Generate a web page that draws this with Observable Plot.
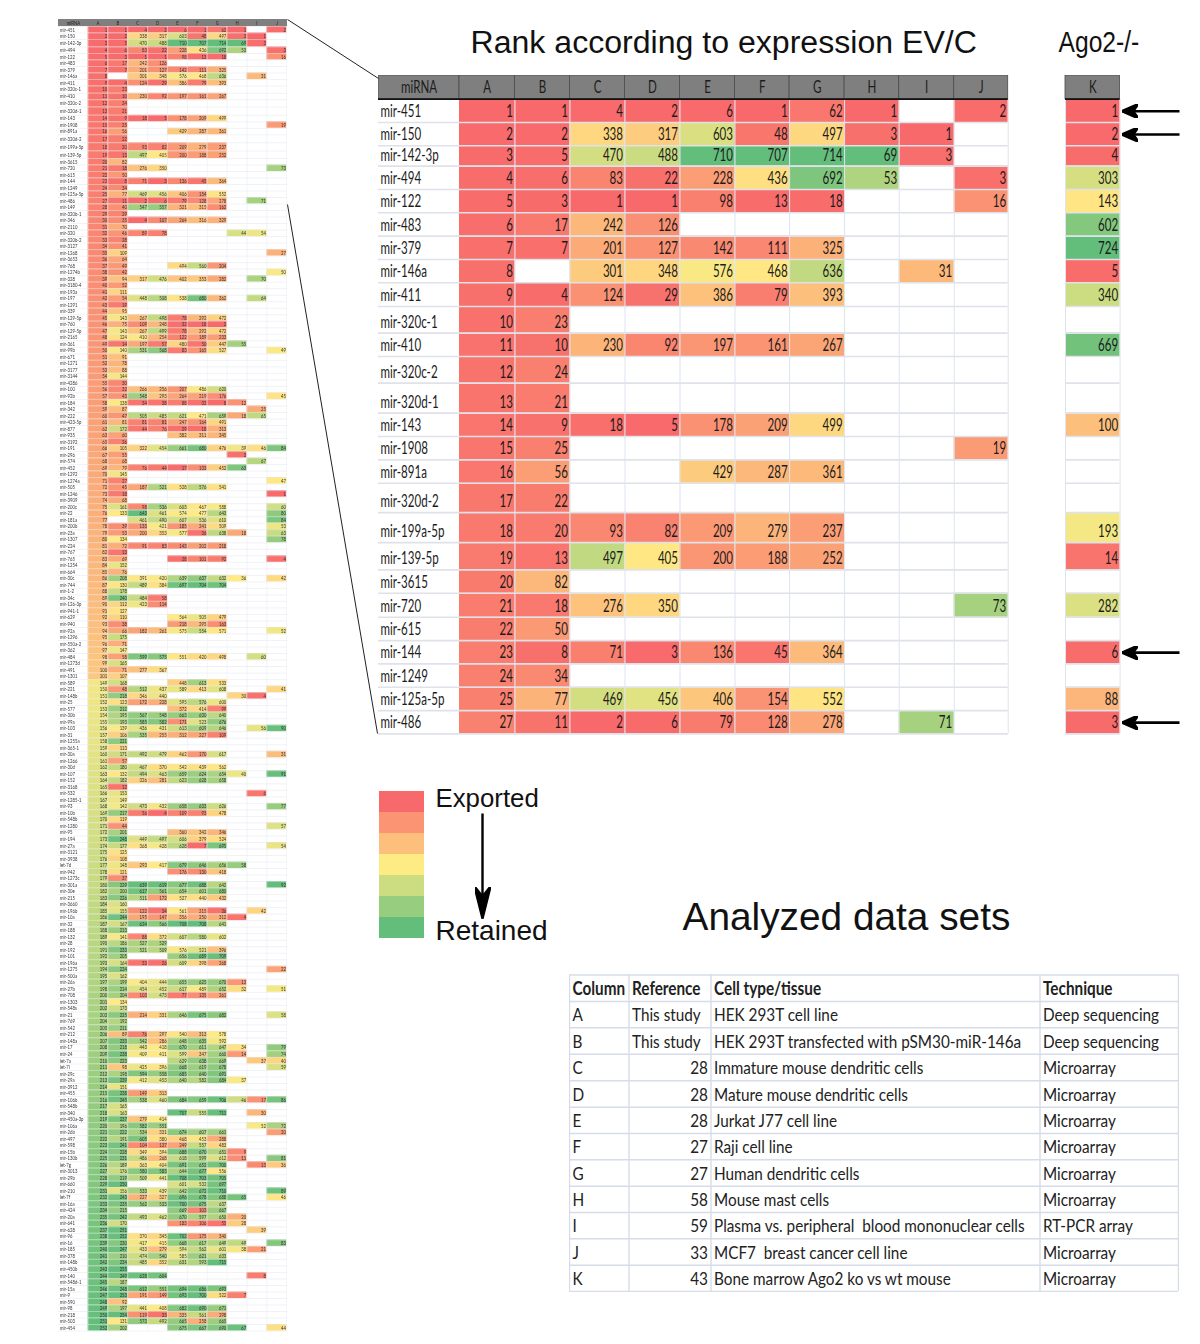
<!DOCTYPE html>
<html><head><meta charset="utf-8">
<script src="https://cdn.jsdelivr.net/npm/d3@7"></script>
<script src="https://cdn.jsdelivr.net/npm/@observablehq/plot@0.6"></script>
<style>
html,body{margin:0;padding:0;background:#fff}
#page{position:relative;width:1200px;height:1344px;overflow:hidden}
#page>div{position:absolute}
#mini{filter:blur(.45px)}
</style></head><body><div id="page">
<div id="mini" style="left:58px;top:19px"></div>
<div id="main" style="left:378px;top:75px"></div>
<div id="legend" style="left:379px;top:788px"></div>
<div id="table" style="left:569px;top:974px"></div>
<div id="notes" style="left:0;top:0;pointer-events:none"></div>
</div>
<script>
const _ = null;
// ---- main table values (rank per data set) ----
const miRNA = ["mir-451","mir-150","mir-142-3p","mir-494","mir-122","mir-483","mir-379","mir-146a","mir-411","mir-320c-1","mir-410","mir-320c-2","mir-320d-1","mir-143","mir-1908","mir-891a","mir-320d-2","mir-199a-5p","mir-139-5p","mir-3615","mir-720","mir-615","mir-144","mir-1249","mir-125a-5p","mir-486"];
const colA = [1,2,3,4,5,6,7,8,9,10,11,12,13,14,15,16,17,18,19,20,21,22,23,24,25,27];
const colB = [1,2,5,6,3,17,7,_,4,23,10,24,21,9,25,56,22,20,13,82,18,50,8,34,77,11];
const colC = [4,338,470,83,1,242,201,301,124,_,230,_,_,18,_,_,_,93,497,_,276,_,71,_,469,2];
const colD = [2,317,488,22,1,126,127,348,29,_,92,_,_,5,_,_,_,82,405,_,350,_,3,_,456,6];
const colE = [6,603,710,228,98,_,142,576,386,_,197,_,_,178,_,429,_,209,200,_,_,_,136,_,406,79];
const colF = [1,48,707,436,13,_,111,468,79,_,161,_,_,209,_,287,_,279,188,_,_,_,45,_,154,128];
const colG = [62,497,714,692,18,_,325,636,393,_,267,_,_,499,_,361,_,237,252,_,_,_,364,_,552,278];
const colH = [1,3,69,53,_,_,_,_,_,_,_,_,_,_,_,_,_,_,_,_,_,_,_,_,_,_];
const colI = [_,1,3,_,_,_,_,31,_,_,_,_,_,_,_,_,_,_,_,_,_,_,_,_,_,71];
const colJ = [2,_,_,3,16,_,_,_,_,_,_,_,_,_,19,_,_,_,_,_,73,_,_,_,_,_];
const colK = [1,2,4,303,143,602,724,5,340,_,669,_,_,100,_,_,_,193,14,_,282,_,6,_,88,3];
const columns = ["A","B","C","D","E","F","G","H","I","J","K"];
const columnValues = [colA,colB,colC,colD,colE,colF,colG,colH,colI,colJ,colK];
// Excel style 3-colour scale anchors per column: min, median, max
const anchors = {A:[1,140,252],B:[1,135,255],C:[1,400,643],D:[1,415,629],E:[1,570,710],F:[1,480,707],G:[1,584,715],H:[1,36,69],I:[1,50,87],J:[1,48,92],K:[1,150,724]};
const arrowRows = ["mir-451","mir-150","mir-144","mir-486"];
// ---- thumbnail of whole table: name, A..J ----
const miniBlock1 = [
["mir-149",28,40,547,557,321,315,162],["mir-320b-1",29,29],["mir-346",30,35,4,107,264,316,329],["mir-2110",31,70],["mir-320",32,46,89,78,_,_,_,44,54],
["mir-320b-2",33,28],["mir-3127",34,41],["mir-1268",35,109,_,_,_,_,_,_,_,27],["mir-3653",36,64],["mir-768",37,49,_,_,494,560,204],["mir-1274b",38,42,_,_,_,_,_,_,_,50],
["mir-328",39,94,317,476,402,353,282,_,70],["mir-3180-4",40,52],["mir-193a",41,111],["mir-197",42,54,448,508,538,680,362,_,64],["mir-1291",43,19],["mir-339",44,95],
["mir-129-5p",45,143,267,498,78,292,472],["mir-760",46,75,109,248,32,18,2],["mir-129-5p",47,143,267,499,78,292,472],["mir-2165",48,124,410,254,122,189,233],
["mir-361",49,14,197,57,480,50,447,55],["mir-99b",50,140,531,568,83,165,527,_,_,49],["mir-671",51,91],["mir-1271",52,78],["mir-3177",53,88],["mir-3144",54,144],["mir-4286",55,30],
["mir-100",56,32,266,256,207,486,620],["mir-92b",57,43,548,293,264,219,176,_,_,45],["mir-184",58,138,34,38,88,32,8,12],["mir-342",59,87,_,_,_,_,_,_,25],
["mir-222",60,47,505,485,621,471,659,18,65],["mir-423-5p",61,81,81,81,247,164,491],["mir-877",62,172,44,76,29,18,313],["mir-935",63,60,_,_,382,311,345],["mir-3192",65,26],
["mir-191",66,105,322,454,661,680,476,39,46,84]];
const miniBlock2 = [
["mir-296",67,55,_,_,_,_,_,3],["mir-574",68,68,_,_,_,_,_,_,67],["mir-452",69,79,76,44,17,133,452,63],["mir-1292",70,145],["mir-1274a",71,27,_,_,_,_,_,_,_,47],
["mir-505",72,45,187,521,528,576,541],["mir-1246",73,18,_,_,_,_,_,_,_,1],["mir-3909",74,68],["mir-200c",75,161,98,536,603,467,588,_,_,60],["mir-22",76,133,643,461,574,477,643,_,_,80],
["mir-181a",77,_,461,490,607,536,610,_,_,84],["mir-200b",78,39,133,421,185,241,509,_,_,53],["mir-23a",79,53,200,353,577,36,638,18,_,63],["mir-1307",80,134,_,_,_,_,_,_,_,78],
["mir-224",81,72,91,83,143,202,218],["mir-767",82,13],["mir-765",83,69,_,_,28,101,92,_,_,4],["mir-1254",84,152],["mir-664",85,76],["mir-30c",86,208,391,420,639,637,632,36,_,42],
["mir-744",87,130,489,384,697,704,704],["mir-1-2",88,178],["mir-34c",89,240,484,58],["mir-126-3p",90,112,423,114],["mir-941-1",91,127],["mir-629",92,110,_,_,564,505,479],
["mir-940",93,38,_,_,218,295,163],["mir-92a",94,66,182,261,575,554,571,_,_,52],["mir-1296",95,175],["mir-550a-2",96,71],["mir-362",97,147],["mir-484",98,58,599,575,551,420,498,_,60],
["mir-1273d",99,165],["mir-491",100,71,277,367],["mir-1301",101,107]];
const miniBlock3 = [
["mir-589",149,168,_,_,448,613,533],["mir-221",150,48,512,437,589,413,608,_,_,41],["mir-148b",151,218,346,440,_,_,_,30,4],["mir-25",152,123,172,228,595,576,600],
["mir-577",153,212,_,_,372,414,99],["mir-30b",154,195,567,548,663,630,640],["mir-99a",155,193,585,582,171,523,676],["mir-103",156,139,436,431,613,609,646,_,56,90],
["mir-31",157,106,535,255,312,227,109],["mir-1255a",158,221],["mir-365-1",159,113],["mir-30a",160,171,492,479,462,170,617,_,_,31],["mir-1266",161,57],["mir-30d",162,180,467,370,542,439,562],
["mir-107",163,132,494,463,659,624,654,40,_,91],["mir-152",164,182,326,281,623,628,658],["mir-3168",165,12],["mir-532",166,153,_,_,_,_,_,_,6],["mir-1285-1",167,149],
["mir-93",168,142,473,432,658,633,626,_,_,77],["mir-10b",169,217,56,4,109,93,478],["mir-548b",170,119],["mir-1280",171,44,_,_,_,_,_,_,_,57],["mir-95",172,201,_,_,360,342,346],
["mir-194",173,248,449,497,606,379,524],["mir-27a",174,177,368,428,628,7,695,_,_,54],["mir-3121",175,125],["mir-3938",176,108],["let-7d",177,148,293,417,679,646,656,58],
["mir-942",178,121,_,_,176,130,418],["mir-1273c",179,37],["mir-301a",180,229,639,619,677,688,642,_,_,92],["mir-30e",182,200,617,561,654,601,680]];
const miniBlock4 = [
["mir-215",183,226,511,172,527,440,432],["mir-3660",184,160],["mir-196b",185,155,122,34,561,215,36,_,42],["mir-10a",186,244,195,147,356,250,312,4],["mir-32",187,167,624,566,708,708,641],
["mir-188",188,213],["mir-132",189,141,88,372,607,580,602],["mir-28",190,186,527,529],["mir-192",191,233,521,509,576,521,396],["mir-101",192,205,_,_,656,689,709],
["mir-196a",193,164,33,26,609,398,268],["mir-1275",194,224,_,_,_,_,_,_,_,22],["mir-500a",195,162],["mir-26a",197,199,404,444,655,625,670,13],["mir-27b",198,214,454,452,617,489,652,32,_,51],
["mir-708",200,204,103,473,77,135,261],["mir-1303",201,134],["mir-548s",202,173],["mir-21",203,225,214,331,646,675,682,_,_,58],["mir-769",204,192],["mir-542",205,211],
["mir-212",206,89,76,297,540,313,578],["mir-148a",207,233,542,286,648,635,592],["mir-17",208,218,443,418,670,611,647,34,_,79],["mir-24",209,238,409,411,599,347,660,14,_,74],
["let-7a",210,223,_,_,629,638,669,_,37,40],["let-7i",211,98,425,396,668,619,678,_,_,59],["mir-29c",212,198,594,558,685,640,691],["mir-29a",213,239,412,453,640,582,684,37],
["mir-3912",214,151],["mir-455",215,238,149,313],["mir-106b",216,245,538,460,684,659,706,46,17,86],["mir-548b",217,165],["mir-340",218,163,_,_,707,555,711,_,30]];
const miniBlock5 = [
["mir-450a-3p",219,237,279,414],["mir-106a",220,196,582,551,_,_,_,_,52,72],["mir-26b",221,222,534,331,674,607,661,_,_,20],["mir-497",222,191,605,380,468,453,288],
["mir-598",223,241,104,137,249,557,483],["mir-15b",224,228,349,394,688,670,651,9],["mir-130b",225,231,486,268,618,599,612,11,_,81],["let-7g",226,189,363,404,691,652,700,_,13,36],
["mir-3013",227,176,580,583,644,677,556],["mir-29b",228,219,509,441,708,703,705],["mir-660",229,250,_,_,601,532,697],["mir-210",231,156,533,439,642,672,710,_,_,89],
["let-7f",232,243,227,327,696,678,688,65,_,46],["mir-16a",233,235,562,533,700,675,637],["mir-424",234,215,_,_,669,103,667],["mir-20a",235,242,493,462,670,597,650,20],
["mir-641",236,170,_,_,183,106,55,28],["mir-628",237,251,_,_,_,_,_,_,39],["mir-96",238,252,370,345,702,175,340],["mir-16",239,230,417,415,668,617,649,49,_,83],
["mir-185",240,247,433,279,594,562,601,38,21],["mir-378",241,210,474,540,585,621,633],["mir-148b",242,234,485,352,631,593,715],["mir-450b",243,255],["mir-140",244,249,628,604,_,_,_,_,8],
["mir-548d-1",245,187],["mir-15a",246,248,612,551,694,686,693],["mir-9",247,253,191,149,693,700,522,7],["mir-590",248,92],["mir-98",249,197,441,408,682,690,671],
["mir-218",250,254,119,33,335,561,298],["mir-503",251,131,573,492,665,258,665],["mir-454",252,202,_,_,675,667,690,67,_,44]];
// ---- analysed data sets table ----
const tableHeader = ["Column","Reference","Cell type/tissue","Technique"];
const tableColumn = ["A","B","C","D","E","F","G","H","I","J","K"];
const tableRefs = ["This study","This study",28,28,28,27,27,58,59,33,43];
const tableCells = ["HEK 293T cell line","HEK 293T transfected with pSM30-miR-146a","Immature mouse dendritic cells","Mature mouse dendritic cells","Jurkat J77 cell line","Raji cell line","Human dendritic cells","Mouse mast cells","Plasma vs. peripheral  blood mononuclear cells","MCF7  breast cancer cell line","Bone marrow Ago2 ko vs wt mouse"];
const tableTech = ["Deep sequencing","Deep sequencing","Microarray","Microarray","Microarray","Microarray","Microarray","Microarray","RT-PCR array","Microarray","Microarray"];
const legendLevels = [0,1/6,2/6,3/6,4/6,5/6,1];

// ---- layout only ----
const narrow = "Lato,'Liberation Sans',sans-serif";
const sans = "'Liberation Sans',Arial,sans-serif";
const colorScale = {type:"linear",domain:[0,.5,1],range:["#F8696B","#FFEB84","#63BE7B"],interpolate:"rgb",clamp:true};
const tOf = (col,v)=>{const [a,m,b]=anchors[col];return v<=m?.5*(v-a)/(m-a):.5+.5*(v-m)/(b-m)};
const cum = (arr,start=0)=>{let s=start;const o=[s];for(const w of arr){s+=w;o.push(s)}return o};
const frame = (w,h,marks,extra={})=>Plot.plot({width:w,height:h,margin:0,
  x:{axis:null,domain:[0,w],range:[0,w]},y:{axis:null,domain:[0,h],range:[0,h]},color:colorScale,
  style:{background:"transparent"},marks,...extra});
// squeeze real text horizontally to the condensed look of the reference
const squeeze=(selector,ratio)=>document.querySelectorAll(selector).forEach(t=>{
  const len=t.getComputedTextLength();
  if(len>0){t.setAttribute("textLength",(len*ratio).toFixed(2));t.setAttribute("lengthAdjust","spacingAndGlyphs");}
});
const arrowMarker=(len,half,notch)=>(color,ctx)=>{
  const m=ctx.document.createElementNS("http://www.w3.org/2000/svg","marker");
  m.setAttribute("viewBox",`${-len} ${-half} ${len} ${2*half}`);
  m.setAttribute("markerWidth",len);m.setAttribute("markerHeight",2*half);
  m.setAttribute("markerUnits","userSpaceOnUse");m.setAttribute("orient","auto");
  m.setAttribute("refX",0);m.setAttribute("refY",0);
  const p=ctx.document.createElementNS("http://www.w3.org/2000/svg","path");
  p.setAttribute("d",`M0,0L${-len},${-half}L${-notch},0L${-len},${half}Z`);p.setAttribute("fill",color);
  m.appendChild(p);return m;};

// ---- main heat table ----
(function(){
  const headerH=23.7;
  const rowSpan=[23.3,23.3,20.3,23.4,23.3,23.3,23.4,23.3,23.7,26.6,23.4,26.6,30,23.4,23.4,23.3,29.4,30,27.3,23.3,24,23.4,23.3,23.3,23.4,23.3];
  const ys=cum(rowSpan,headerH);
  const edges=cum([81,55.5,55,55,55,55,54.6,55,54.6,55,54]);
  const kL=687,kR=741.6;
  const colL=c=>c==="K"?kL:edges[columns.indexOf(c)+1];
  const colR=c=>c==="K"?kR:edges[columns.indexOf(c)+2];
  const cells=[];
  columns.forEach((c,j)=>columnValues[j].forEach((v,i)=>{if(v!==null)cells.push({c,v,i,t:tOf(c,v)})}));
  const head=[{c:"miRNA",l:0,r:edges[1]},...columns.map(c=>({c,l:colL(c),r:colR(c)}))];
  const W=802,H=660;
  const hLines=[...ys.slice(1)];
  const vGrid=[...edges.slice(2,-1),kL,kR,edges[11]];
  const textOpts={fontFamily:narrow,fontSize:17,fill:"#1c1c1c",lineAnchor:"middle"};
  const node=frame(W,H,[
    Plot.rect(cells,{x1:d=>colL(d.c),x2:d=>colR(d.c),y1:d=>ys[d.i],y2:d=>ys[d.i+1],fill:d=>d.t}),
    Plot.ruleY(hLines,{y:d=>d,x1:0,x2:edges[11],stroke:"#dfe2e8",strokeWidth:1.6}),
    Plot.ruleY(hLines,{y:d=>d,x1:kL,x2:kR,stroke:"#dfe2e8",strokeWidth:1.6}),
    Plot.ruleX(vGrid,{x:d=>d,y1:headerH,y2:ys[26],stroke:"#dde4f0",strokeWidth:1}),
    Plot.rect(head,{x1:"l",x2:"r",y1:0,y2:headerH,fill:"#7f7f7f",stroke:"#4c4c4c",strokeWidth:.8}),
    Plot.ruleY([0],{y:d=>headerH,x1:0,x2:edges[11],stroke:"#111",strokeWidth:1.8}),
    Plot.ruleY([0],{y:d=>headerH,x1:kL,x2:kR,stroke:"#111",strokeWidth:1.8}),
    Plot.text(head,{x:d=>(d.l+d.r)/2,y:12,text:"c",textAnchor:"middle",...textOpts}),
    Plot.text(miRNA,{x:2,y:(d,i)=>ys[i+1]-11,text:d=>d,textAnchor:"start",...textOpts}),
    Plot.text(cells,{x:d=>colR(d.c)-2,y:d=>ys[d.i+1]-11,text:d=>String(d.v),textAnchor:"end",...textOpts}),
    Plot.link(arrowRows,{x1:801,x2:kR+2,y1:d=>ys[miRNA.indexOf(d)]+12,y2:d=>ys[miRNA.indexOf(d)]+12,stroke:"#000",strokeWidth:2.6,markerEnd:arrowMarker(16,7,11)})
  ]);
  document.getElementById("main").appendChild(node);
  squeeze("#main text",.68);
})();

// ---- thumbnail ----
(function(){
  const minis=[...miniBlock1,...miniBlock2,...miniBlock3,...miniBlock4,...miniBlock5];
  const J=columns.slice(0,10);
  const topRows=miRNA.map((n,i)=>[n,...J.map((c,j)=>columnValues[j][i])]);
  const rows=[...topRows,...minis];
  const topSpan=[6.5,6.5,7.5,6.5,6.5,6.5,6.5,6.5,6.5,7.3,6.5,7.3,8.2,6.5,6.5,6.5,8,8.2,7.5,6.5,6.5,6.5,6.5,6.5,6.5,6.5];
  const spans=rows.map((r,i)=>i<26?topSpan[i]:6.515);
  const ys=cum(spans,7);
  const edges=cum([29.6,...J.map(()=>19.86)]);
  const cells=[];
  rows.forEach((r,i)=>J.forEach((c,j)=>{const v=r[j+1];if(v!==null&&v!==undefined)cells.push({c,j,v,i,t:tOf(c,v)})}));
  const W=229,H=ys[ys.length-1]+1;
  const opts={fontFamily:narrow,fontSize:5.6,lineAnchor:"middle",fill:"#333"};
  const node=frame(W,Math.ceil(H),[
    Plot.rect(cells,{x1:d=>edges[d.j+1],x2:d=>edges[d.j+2],y1:d=>ys[d.i],y2:d=>ys[d.i+1],fill:d=>d.t}),
    Plot.ruleY(ys,{y:d=>d,stroke:"#e2e5ec",strokeWidth:.5}),
    Plot.ruleX(edges.slice(1),{x:d=>d,y1:7,y2:ys[ys.length-1],stroke:"#e4e9f2",strokeWidth:.5}),
    Plot.rect([0],{x1:0,x2:W,y1:0,y2:7,fill:"#7f7f7f"}),
    Plot.text(["miRNA",...J],{x:(d,i)=>i?(edges[i]+edges[i+1])/2:15,y:3.6,text:d=>d,textAnchor:"middle",...opts,fill:"#222"}),
    Plot.text(rows,{x:1.5,y:(d,i)=>ys[i]+spans[i]/2,text:d=>d[0],textAnchor:"start",...opts}),
    Plot.text(cells,{x:d=>edges[d.j+2]-.8,y:d=>ys[d.i]+spans[d.i]/2,text:d=>String(d.v),textAnchor:"end",...opts})
  ]);
  document.getElementById("mini").appendChild(node);
  squeeze("#mini text",.76);
})();

// ---- colour legend ----
(function(){
  const node=Plot.plot({width:45,height:153,margin:0,padding:0,x:{axis:null},y:{axis:null,domain:legendLevels},color:colorScale,
    style:{background:"transparent"},marks:[Plot.cell(legendLevels,{y:d=>d,fill:d=>d})]});
  document.getElementById("legend").appendChild(node);
})();

// ---- data set table ----
(function(){
  const W=610,H=318;
  const xs=[0,59.5,141.5,470.5,609];
  const ys=[.5,27,53.3,79.7,106.3,132.7,159,185.3,211.7,238,264.3,290.7,317];
  const mid=i=>(ys[i]+ys[i+1])/2+1;
  const o={fontFamily:narrow,fontSize:18,fill:"#222",lineAnchor:"middle"};
  const left=(arr,x)=>Plot.text(arr,{x,y:(d,i)=>mid(i+1),text:d=>String(d),textAnchor:"start",...o});
  const refs=tableRefs.map((r,i)=>({r,i}));
  const node=frame(W,H,[
    Plot.ruleY(ys,{y:d=>d,x1:0,x2:609,stroke:"#d6dce9",strokeWidth:1.4}),
    Plot.ruleX(xs,{x:d=>d,y1:.5,y2:317,stroke:"#d6dce9",strokeWidth:1.4}),
    Plot.text(tableHeader,{x:(d,i)=>xs[i]+3,y:mid(0),text:d=>d,textAnchor:"start",...o,fontWeight:"bold"}),
    left(tableColumn,3),
    Plot.text(refs.filter(d=>typeof d.r==="string"),{x:xs[1]+3,y:d=>mid(d.i+1),text:"r",textAnchor:"start",...o}),
    Plot.text(refs.filter(d=>typeof d.r==="number"),{x:xs[2]-3,y:d=>mid(d.i+1),text:d=>String(d.r),textAnchor:"end",...o}),
    left(tableCells,xs[2]+3),
    left(tableTech,xs[3]+3)
  ]);
  document.getElementById("table").appendChild(node);
  squeeze("#table text",.85);
})();

// ---- page annotations: titles, zoom lines, legend arrow ----
const titleNotes=[{t:"Rank according to expression EV/C",x:470,y:42},{t:"Analyzed data sets",x:682,y:917}];
const legendNotes=[{t:"Exported",x:435,y:798},{t:"Retained",x:435,y:931}];
const zoomLines=[{x1:287,y1:19,x2:378,y2:78},{x1:287,y1:204,x2:377,y2:733}];
(function(){
  const node=frame(1200,1344,[
    Plot.link(zoomLines,{x1:"x1",y1:"y1",x2:"x2",y2:"y2",stroke:"#222",strokeWidth:1}),
    Plot.text(titleNotes.slice(0,1),{x:"x",y:"y",text:"t",fontSize:32.1,textAnchor:"start",fontFamily:sans,fill:"#111"}),
    Plot.text(titleNotes.slice(1),{x:"x",y:"y",text:"t",fontSize:38.8,textAnchor:"start",fontFamily:sans,fill:"#111"}),
    Plot.text(["Ago2-/-"],{x:1058,y:42,text:d=>d,fontSize:29,textAnchor:"start",fontFamily:sans,fill:"#111",ariaLabel:"ago"}),
    Plot.text(legendNotes.slice(0,1),{x:"x",y:"y",text:"t",fontSize:25.8,textAnchor:"start",fontFamily:sans,fill:"#111"}),
    Plot.text(legendNotes.slice(1),{x:"x",y:"y",text:"t",fontSize:28,textAnchor:"start",fontFamily:sans,fill:"#111"}),
    Plot.link([0],{x1:482,x2:482,y1:813,y2:918,stroke:"#000",strokeWidth:2.4,markerEnd:arrowMarker(32,8,22)})
  ]);
  document.getElementById("notes").appendChild(node);
  document.querySelectorAll("#notes text").forEach(t=>{
    if(t.textContent==="Ago2-/-"){t.setAttribute("textLength",(t.getComputedTextLength()*.85).toFixed(1));t.setAttribute("lengthAdjust","spacingAndGlyphs");}
  });
})();
</script></body></html>
